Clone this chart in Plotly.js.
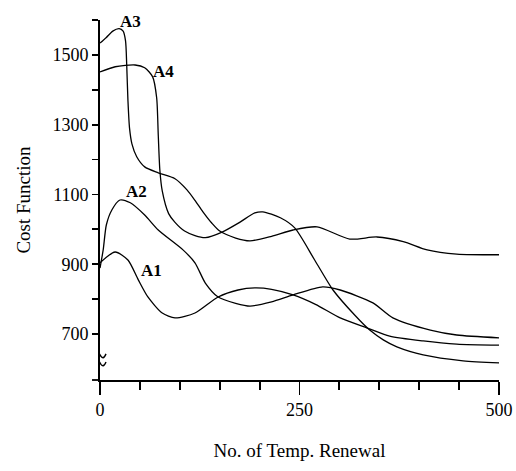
<!DOCTYPE html>
<html>
<head>
<meta charset="utf-8">
<script src="https://cdn.plot.ly/plotly-3.0.1.min.js"></script>
<style>html,body{margin:0;padding:0;background:#fff;}#chart{width:516px;height:471px;}</style>
</head>
<body>
<div id="chart"></div>
<script>
// Data
const xA1 = [0, 19, 35, 48, 60, 78, 94, 119, 148, 173, 194, 215, 242, 270, 301, 335, 363, 405, 447, 500];
const yA1 = [904, 935, 912, 855, 806, 760, 746, 760, 806, 826, 832, 828, 812, 785, 746, 717, 694, 680, 671, 668];

const xA2 = [0, 4, 8, 15, 25, 38, 56, 73, 104, 119, 132, 148, 170, 188, 215, 242, 279, 301, 342, 367, 414, 447, 500];
const yA2 = [889, 941, 1013, 1056, 1084, 1076, 1041, 998, 941, 904, 846, 806, 788, 780, 792, 812, 835, 826, 789, 746, 711, 697, 689];

const xA3 = [0, 8, 16, 24, 29, 32, 33.5, 35, 37, 40, 46, 56, 73, 94, 109, 119, 129, 140, 150, 170, 188, 215, 242, 272, 313, 347, 380, 410, 447, 500];
const yA3 = [1534, 1550, 1568, 1575, 1568, 1540, 1470, 1370, 1290, 1245, 1208, 1179, 1162, 1145, 1113, 1083, 1050, 1018, 995, 975, 967, 980, 998, 1007, 972, 978, 965, 941, 929, 927];

const xA4 = [0, 19, 44, 56, 66, 71, 73, 75, 78, 86, 94, 106, 119, 132, 153, 175, 194, 204, 226, 244, 269, 292, 320, 338, 355, 372, 405, 455, 500];
const yA4 = [1451, 1466, 1471, 1463, 1437, 1377, 1271, 1170, 1110, 1045, 1020, 995, 982, 976, 992, 1020, 1047, 1050, 1033, 1004, 912, 826, 752, 711, 683, 663, 640, 623, 617];

const seriesNames = ['A1', 'A2', 'A3', 'A4'];
const labelX = [64, 46, 38, 79];
const labelY = [883, 1107, 1595, 1451];

const yTickVals = [700, 800, 900, 1000, 1100, 1200, 1300, 1400, 1500, 1600];
const yTickText = ['700', '', '900', '', '1100', '', '1300', '', '1500', ''];
const breakAt = [640, 617];

const xs = [xA1, xA2, xA3, xA4];
const ys = [yA1, yA2, yA3, yA4];

const font = 'Liberation Serif, Times New Roman, serif';

const traces = seriesNames.map((n, i) => ({
  x: xs[i], y: ys[i], name: n, type: 'scatter', mode: 'lines',
  line: {color: '#000', width: 1.3, shape: 'spline', smoothing: 0.7},
  showlegend: false, hoverinfo: 'skip'
}));

const annotations = seriesNames.map((n, i) => ({
  x: labelX[i], y: labelY[i], xref: 'x', yref: 'y', text: n, showarrow: false,
  font: {family: font, size: 17, color: '#000', weight: 'bold'}
}));

const shapes = [{type: 'line', xref: 'paper', yref: 'paper', x0: -0.02, x1: 0, y0: 0, y1: 0, line: {color: '#000', width: 1.8}}];
// axis-break marks (small tildes across the y axis)
breakAt.forEach(v => shapes.push({
  type: 'path', xref: 'x', yref: 'y', xsizemode: 'pixel', ysizemode: 'pixel',
  xanchor: 0, yanchor: v,
  path: 'M-6,-1 C-4,4 -2,4 0,0 C2,-4 4,-4 6,1',
  line: {color: '#000', width: 1.4}
}));

const layout = {
  width: 516, height: 471,
  margin: {l: 100, r: 17, t: 20, b: 91},
  paper_bgcolor: '#fff', plot_bgcolor: '#fff',
  font: {family: font, color: '#000'},
  xaxis: {
    range: [0, 500], tickmode: 'linear', tick0: 0, dtick: 250,
    ticks: 'outside', ticklen: 13, tickwidth: 1.8, tickcolor: '#000',
    showline: true, linecolor: '#000', linewidth: 1.8,
    showgrid: false, zeroline: false,
    minor: {dtick: 50, ticks: 'outside', ticklen: 8, tickwidth: 1.8, tickcolor: '#000'},
    tickfont: {family: font, size: 18, color: '#000'},
    title: {text: 'No. of Temp. Renewal', font: {family: font, size: 19, color: '#000'}, standoff: 24}
  },
  yaxis: {
    range: [568, 1600], tickmode: 'array', tickvals: yTickVals, ticktext: yTickText,
    ticks: 'outside', ticklen: 6, tickwidth: 1.8, tickcolor: '#000',
    showline: true, linecolor: '#000', linewidth: 1.8,
    showgrid: false, zeroline: false,
    tickfont: {family: font, size: 18, color: '#000'},
    title: {text: 'Cost Function', font: {family: font, size: 19, color: '#000'}, standoff: 17}
  },
  annotations: annotations,
  shapes: shapes
};

Plotly.newPlot('chart', traces, layout, {staticPlot: true, displayModeBar: false});
</script>
</body>
</html>
